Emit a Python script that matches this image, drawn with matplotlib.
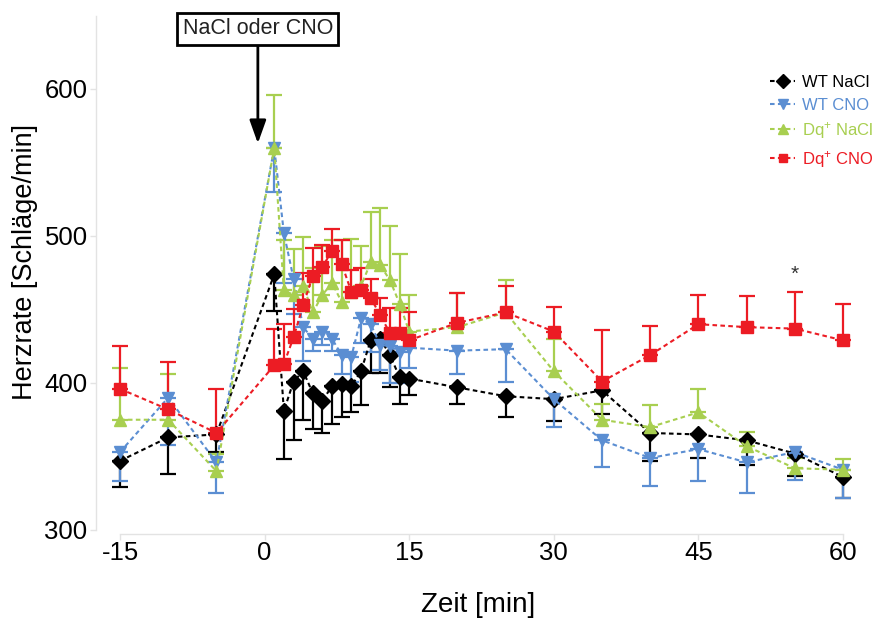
import matplotlib
matplotlib.use("Agg")
import matplotlib.pyplot as plt
from matplotlib.lines import Line2D

plt.rcParams['font.family'] = ['Liberation Sans', 'DejaVu Sans']
plt.rcParams['mathtext.fontset'] = 'custom'
plt.rcParams['mathtext.rm'] = 'Liberation Sans'
plt.rcParams['mathtext.it'] = 'Liberation Sans:italic'

# ---- data ----
times = [-15, -10, -5, 1, 2, 3, 4, 5, 6, 7, 8, 9, 10, 11, 12, 13, 14, 15,
         20, 25, 30, 35, 40, 45, 50, 55, 60]

wt_nacl = [347, 363, 365, 474, 381, 401, 408, 393, 388, 398, 399, 398, 408, 429, 430, 419, 404, 403,
           397, 391, 389, 395, 366, 365, 361, 352, 336]
wt_nacl_err = [18, 25, 12, 25, 33, 40, 33, 24, 22, 26, 22, 18, 23, 22, 23, 22, 18, 11,
               11, 14, 15, 16, 19, 16, 17, 15, 14]

wt_cno = [353, 390, 346, 560, 502, 471, 438, 430, 435, 430, 419, 418, 444, 440, 426, 425, 421, 424,
          422, 423, 389, 361, 349, 355, 346, 353, 341]
wt_cno_err = [20, 32, 21, 30, 34, 24, 23, 8, 9, 8, 13, 17, 17, 19, 17, 25, 21, 14,
              16, 22, 19, 18, 19, 22, 21, 19, 19]

dq_nacl = [375, 375, 340, 560, 463, 460, 466, 448, 460, 468, 455, 462, 466, 482, 480, 470, 454, 435,
           438, 448, 408, 375, 370, 380, 357, 342, 341]
dq_nacl_err = [35, 31, 12, 36, 34, 31, 33, 30, 33, 29, 42, 36, 27, 34, 39, 37, 34, 25,
               23, 22, 22, 11, 15, 16, 10, 7, 7]

dq_cno = [396, 382, 366, 412, 413, 431, 453, 473, 479, 490, 481, 462, 463, 458, 446, 434, 434, 429,
          441, 448, 435, 401, 419, 440, 438, 437, 429]
dq_cno_err = [29, 32, 30, 25, 27, 19, 22, 19, 15, 15, 16, 15, 15, 13, 12, 17, 17, 19,
              20, 18, 17, 35, 20, 20, 21, 25, 25]

series_labels = ['WT NaCl', 'WT CNO', 'Dq$^{+}$ NaCl', 'Dq$^{+}$ CNO']
x_ticks = [-15, 0, 15, 30, 45, 60]
y_ticks = [300, 400, 500, 600]

# ---- figure ----
W, H = 882, 621
fig = plt.figure(figsize=(W / 100, H / 100), dpi=100)
x0, x1 = 95.9, 862.3
y_top, y_bot = 15.5, 534.4
ax = fig.add_axes([x0 / W, 1 - y_bot / H, (x1 - x0) / W, (y_bot - y_top) / H])
ax.set_xlim(-17.5, 62)
ax.set_ylim(297, 650)

colors = ['#000000', '#5B8ED2', '#A8CF50', '#EC1C24']
markers = ['D', 'v', '^', 's']
msizes = [8.5, 9, 9, 8]
data = [wt_nacl, wt_cno, dq_nacl, dq_cno]
errs = [wt_nacl_err, wt_cno_err, dq_nacl_err, dq_cno_err]
lower = [True, True, False, False]
dash = (0, (2.2, 1.6))

for vals, err, c, m, ms, lo, lab in zip(data, errs, colors, markers, msizes, lower, series_labels):
    zeros = [0] * len(err)
    yerr = [err, zeros] if lo else [zeros, err]
    ax.errorbar(times, vals, yerr=yerr, fmt='none', ecolor=c, elinewidth=1.6,
                capsize=5.5, capthick=1.6, zorder=2)
    ax.plot(times, vals, linestyle=dash, color=c, lw=1.5, marker=m, ms=ms,
            mec=c, mfc=c, zorder=3, label=lab)

# spines
for s in ['top', 'right']:
    ax.spines[s].set_visible(False)
for s in ['left', 'bottom']:
    ax.spines[s].set_color('#e3e3e3')
    ax.spines[s].set_linewidth(1.0)
ax.spines['left'].set_bounds(300, 650)
ax.spines['bottom'].set_bounds(-15, 60)

ax.set_xticks(x_ticks)
ax.set_xticklabels([str(v) for v in x_ticks])
ax.set_yticks(y_ticks)
ax.set_yticklabels([str(v) for v in y_ticks])
ax.tick_params(axis='both', colors='#e3e3e3', length=4, width=1.0, labelcolor='black',
               labelsize=18.5)
ax.tick_params(axis='x', pad=1.0)
ax.tick_params(axis='y', pad=2)

fig.text(25 / W, 1 - 262 / H, 'Herzrate [Schläge/min]', rotation=90, ha='center', va='center',
         fontsize=19.5)
fig.text(478 / W, 1 - 605 / H, 'Zeit [min]', ha='center', va='center', fontsize=20)

# significance star
ax.text(55, 474, '*', ha='center', va='center', fontsize=15, color='#333333')

# annotation box with arrow
ax.annotate('NaCl oder CNO', xy=(-0.7, 563), xytext=(-0.7, 641),
            ha='center', va='center', fontsize=15.5, color='#222222', annotation_clip=False,
            bbox=dict(boxstyle='square,pad=0.25', fc='white', ec='black', lw=2),
            arrowprops=dict(arrowstyle='-|>,head_length=0.7,head_width=0.25', color='black',
                            lw=2, mutation_scale=20, shrinkA=0, shrinkB=0))

# legend
handles = [Line2D([0], [0], linestyle=dash, color=c, lw=1.5, marker=m, ms=ms * 0.8, mfc=c, mec=c)
           for c, m, ms in zip(colors, markers, msizes)]
leg = fig.legend(handles, series_labels, loc='upper left', bbox_to_anchor=(770 / W, 1 - 75 / H),
                 frameon=False, fontsize=12, handlelength=1.5, handletextpad=0.4,
                 labelspacing=0.45, borderaxespad=0, borderpad=0)
for t, c in zip(leg.get_texts(), colors):
    t.set_color(c)

fig.savefig('out.png', dpi=100)
